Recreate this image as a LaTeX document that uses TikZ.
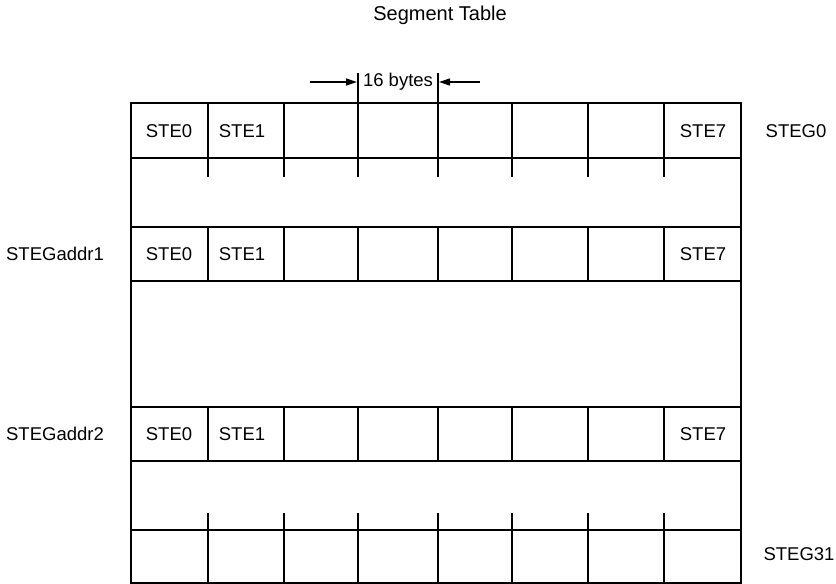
\documentclass[tikz,border=0pt]{standalone}
\usepackage{fontspec}
\setmainfont{Liberation Sans}
\usetikzlibrary{arrows.meta}
\begin{document}
\begin{tikzpicture}[x=1pt,y=-1pt,
  lbl/.style={font=\fontsize{18.5}{22}\selectfont, inner sep=0pt},
  gridline/.style={line width=1.3pt, line cap=rect},
  dimarrow/.style={line width=1.3pt, -{Triangle[length=11pt,width=7pt]}}]
\useasboundingbox (0,0) rectangle (836,584);
% outer frame
\draw[gridline] (131,103) rectangle (741,583);
% horizontal row lines
\foreach \y in {158,227,281,407,461,530}
  \draw[gridline] (131,\y) -- (741,\y);
% vertical cell lines
\foreach \x in {208,284,358,438,512,588,664} {
  \draw[gridline] (\x,103) -- (\x,176);
  \draw[gridline] (\x,227) -- (\x,281);
  \draw[gridline] (\x,407) -- (\x,461);
  \draw[gridline] (\x,514) -- (\x,583);
}
% dimension marker
\coordinate (m1t) at (358,74);
\coordinate (m1b) at (358,103);
\coordinate (m2t) at (438,74);
\coordinate (m2b) at (438,103);
\draw[gridline] (m1t) -- (m1b);
\draw[gridline] (m2t) -- (m2b);
\coordinate (a1s) at (310,82);
\coordinate (a1e) at (357,82);
\coordinate (a2s) at (480,82);
\coordinate (a2e) at (439,82);
\draw[dimarrow] (a1s) -- (a1e);
\draw[dimarrow] (a2s) -- (a2e);
\node[lbl] (bytes) at (398,82) {16 bytes};
% title
\node[lbl, font=\fontsize{20}{24}\selectfont] (title) at (440,15) {Segment Table};
% cell texts
\node[lbl] (r0c0) at (169,131) {STE0};
\node[lbl] (r0c1) at (242,131) {STE1};
\node[lbl] (r0c7) at (703,131) {STE7};
\node[lbl] (r1c0) at (169,254) {STE0};
\node[lbl] (r1c1) at (242,254) {STE1};
\node[lbl] (r1c7) at (703,254) {STE7};
\node[lbl] (r2c0) at (169,434) {STE0};
\node[lbl] (r2c1) at (242,434) {STE1};
\node[lbl] (r2c7) at (703,434) {STE7};
% side labels
\node[lbl] (steg0) at (796,131) {STEG0};
\node[lbl] (addr1) at (55,254) {STEGaddr1};
\node[lbl] (addr2) at (55,434) {STEGaddr2};
\node[lbl] (steg31) at (799,554) {STEG31};
\end{tikzpicture}
\end{document}
